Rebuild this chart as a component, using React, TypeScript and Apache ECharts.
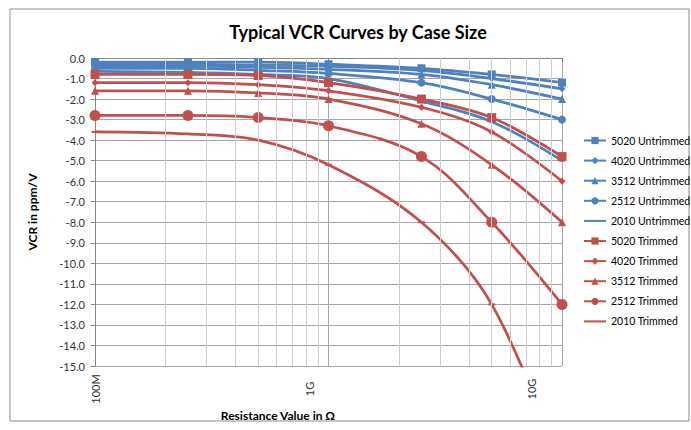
import { useEffect, useRef } from "react";
import * as echarts from "echarts";

const resistances = [1e8, 2.5e8, 5e8, 1e9, 2.5e9, 5e9, 1e10];

const untrimmed5020 = [-0.2, -0.2, -0.2, -0.3, -0.5, -0.8, -1.2];
const untrimmed4020 = [-0.3, -0.3, -0.35, -0.4, -0.6, -1.0, -1.5];
const untrimmed3512 = [-0.4, -0.4, -0.45, -0.55, -0.8, -1.3, -2.0];
const untrimmed2512 = [-0.5, -0.5, -0.6, -0.75, -1.2, -2.0, -3.0];
const untrimmed2010 = [-0.65, -0.7, -0.8, -1.0, -2.1, -3.1, -5.0];
const trimmed5020 = [-0.8, -0.8, -0.85, -1.2, -2.0, -2.9, -4.8];
const trimmed4020 = [-1.2, -1.2, -1.3, -1.6, -2.4, -3.6, -6.0];
const trimmed3512 = [-1.6, -1.6, -1.7, -2.0, -3.2, -5.2, -8.0];
const trimmed2512 = [-2.8, -2.8, -2.9, -3.3, -4.8, -8.0, -12.0];
const trimmed2010 = [-3.6, -3.7, -4.0, -5.2, -8.0, -12.0, -20.0];

const xTickLabels = ["100M", "1G", "10G"];
const minorTicks = [
  2e8, 3e8, 4e8, 5e8, 6e8, 7e8, 8e8, 9e8,
  2e9, 3e9, 4e9, 5e9, 6e9, 7e9, 8e9, 9e9,
];

const BLUE = "#4F81BD";
const RED = "#C0504D";
const FONT = "Lato";

type Def = {
  name: string;
  values: number[];
  color: string;
  symbol: string;
  size: number | number[];
  legendMarker: boolean;
};

const defs: Def[] = [
  { name: "5020 Untrimmed", values: untrimmed5020, color: BLUE, symbol: "rect", size: 8, legendMarker: true },
  { name: "4020 Untrimmed", values: untrimmed4020, color: BLUE, symbol: "diamond", size: 7, legendMarker: true },
  { name: "3512 Untrimmed", values: untrimmed3512, color: BLUE, symbol: "triangle", size: 8, legendMarker: true },
  { name: "2512 Untrimmed", values: untrimmed2512, color: BLUE, symbol: "circle", size: 8, legendMarker: true },
  { name: "2010 Untrimmed", values: untrimmed2010, color: BLUE, symbol: "rect", size: [6, 2], legendMarker: false },
  { name: "5020 Trimmed", values: trimmed5020, color: RED, symbol: "rect", size: 9, legendMarker: true },
  { name: "4020 Trimmed", values: trimmed4020, color: RED, symbol: "diamond", size: 7, legendMarker: true },
  { name: "3512 Trimmed", values: trimmed3512, color: RED, symbol: "triangle", size: 8, legendMarker: true },
  { name: "2512 Trimmed", values: trimmed2512, color: RED, symbol: "circle", size: 11, legendMarker: true },
  { name: "2010 Trimmed", values: trimmed2010, color: RED, symbol: "rect", size: [7, 2], legendMarker: false },
];

export default function App() {
  const ref = useRef<HTMLDivElement>(null);
  useEffect(() => {
    if (!ref.current) return;
    document.body.style.margin = "0";
    const chart = echarts.init(ref.current, undefined, { renderer: "svg" });
    const series: any[] = defs.map((d) => ({
      name: d.name,
      type: "line",
      data: d.values.map((v, i) => [resistances[i], v]),
      smooth: 0.35,
      symbol: d.symbol,
      symbolSize: d.size,
      clip: true,
      z: 3,
      lineStyle: { color: d.color, width: 2.75 },
      itemStyle: { color: d.color },
    }));
    series.unshift({
      name: "minor",
      type: "line",
      data: [],
      z: 1,
      silent: true,
      markLine: {
        silent: true,
        symbol: ["none", "none"],
        label: { show: false },
        lineStyle: { color: "#d0d0d0", width: 1, type: "solid" },
        data: minorTicks.map((v) => ({ xAxis: v })),
      },
    });
    const richBase = { fontFamily: FONT, fontSize: 11, color: "#333" };
    chart.setOption({
      animation: false,
      backgroundColor: "#fff",
      grid: { left: 95, top: 58, width: 467, height: 308, containLabel: false },
      graphic: [
        {
          type: "rect",
          shape: { x: 10, y: 9, width: 679, height: 412 },
          style: { fill: "none", stroke: "#8c8c8c", lineWidth: 1 },
          silent: true,
        },
        {
          type: "text",
          x: 358,
          y: 32,
          style: {
            text: "Typical VCR Curves by Case Size",
            font: `bold 18px ${FONT}`,
            fill: "#000",
            align: "center",
            verticalAlign: "middle",
          },
        },
        {
          type: "text",
          x: 278,
          y: 415,
          style: {
            text: "Resistance Value in Ω",
            font: `bold 12px ${FONT}`,
            fill: "#000",
            align: "center",
            verticalAlign: "middle",
          },
        },
      ],
      legend: {
        orient: "vertical",
        left: 583,
        top: 135,
        padding: 0,
        itemWidth: 22,
        itemHeight: 9,
        itemGap: 9.1,
        data: defs.map((d) =>
          d.legendMarker
            ? { name: d.name }
            : { name: d.name, itemStyle: { color: "rgba(0,0,0,0)", borderWidth: 0, opacity: 0 } }
        ),
        textStyle: { fontFamily: FONT, fontSize: 10.5, color: "#000" },
      },
      xAxis: {
        type: "log",
        logBase: 10,
        min: 1e8,
        max: 1e10,
        axisLine: { show: true, lineStyle: { color: "#868686" } },
        axisTick: { show: true, length: 4, lineStyle: { color: "#868686" } },
        splitLine: { show: true, lineStyle: { color: "#a6a6a6", width: 1 } },
        axisLabel: {
          rotate: 90,
          align: "center",
          margin: 23,
          formatter: (v: number) => {
            const i = Math.round(Math.log10(v)) - 8;
            return `{l${i}|${xTickLabels[i] ?? ""}}`;
          },
          rich: {
            l0: { ...richBase },
            l1: { ...richBase, padding: [0, 0, 38, 0] },
            l2: { ...richBase, padding: [0, 0, 62, 0] },
          },
        },
      },
      yAxis: {
        type: "value",
        min: -15,
        max: 0,
        interval: 1,
        name: "VCR in ppm/V",
        nameLocation: "middle",
        nameGap: 57,
        nameTextStyle: { fontFamily: FONT, fontSize: 12, fontWeight: "bold", color: "#000" },
        axisLine: { show: true, lineStyle: { color: "#868686" } },
        axisTick: { show: true, length: 4, lineStyle: { color: "#868686" } },
        splitLine: { show: true, lineStyle: { color: "#a6a6a6", width: 1 } },
        axisLabel: {
          margin: 10,
          fontFamily: FONT,
          fontSize: 11,
          color: "#333",
          formatter: (v: number) => v.toFixed(1),
        },
      },
      series,
    });
    return () => chart.dispose();
  }, []);
  return <div ref={ref} style={{ width: 691, height: 430 }} />;
}
